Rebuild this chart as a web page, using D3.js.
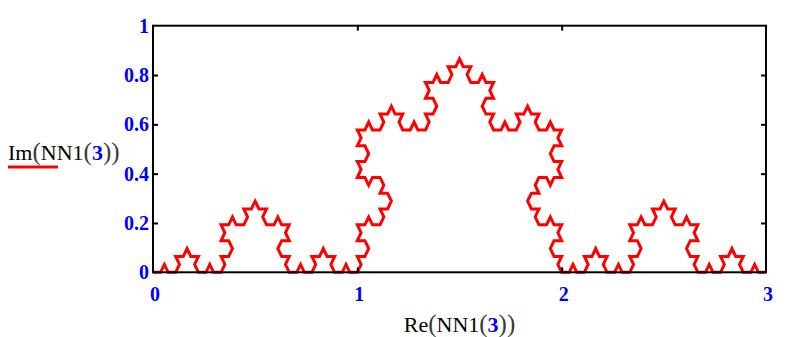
<!DOCTYPE html>
<html>
<head>
<meta charset="utf-8">
<script src="https://cdn.jsdelivr.net/npm/d3@7"></script>
<style>
  html, body { margin: 0; padding: 0; background: #fff; }
  svg { display: block; }
  .tick-label { font-family: "Liberation Serif", "Times New Roman", serif; font-weight: bold; font-size: 20px; fill: #0000ff; }
  .title { font-family: "Liberation Serif", "Times New Roman", serif; font-size: 22px; fill: #000; }
  .paren { font-size: 25px; fill: #3a3a3a; }
</style>
</head>
<body>
<svg id="chart" width="788" height="337"></svg>
<script>
// Koch curve NN1(3), traced as a chain code: each entry is the heading of one
// segment (length 1/27) in steps of 60 degrees.
const stepLength = 1 / 27;
const segmentDirs = [
  0, 1, -1, 0, 1, 2, 0, 1, -1, 0, -2, -1, 0, 1, -1, 0,
  1, 2, 0, 1, 2, 3, 1, 2, 0, 1, -1, 0, 1, 2, 0, 1,
  -1, 0, -2, -1, 0, 1, -1, 0, -2, -1, -3, -2, -1, 0, -2, -1,
  0, 1, -1, 0, 1, 2, 0, 1, -1, 0, -2, -1, 0, 1, -1, 0,
  1, 2, 0, 1, 2, 3, 1, 2, 0, 1, -1, 0, 1, 2, 0, 1,
  2, 3, 1, 2, 3, 4, 2, 3, 1, 2, 0, 1, 2, 3, 1, 2,
  0, 1, -1, 0, 1, 2, 0, 1, -1, 0, -2, -1, 0, 1, -1, 0,
  1, 2, 0, 1, 2, 3, 1, 2, 0, 1, -1, 0, 1, 2, 0, 1,
  -1, 0, -2, -1, 0, 1, -1, 0, -2, -1, -3, -2, -1, 0, -2, -1,
  0, 1, -1, 0, 1, 2, 0, 1, -1, 0, -2, -1, 0, 1, -1, 0,
  -2, -1, -3, -2, -1, 0, -2, -1, -3, -2, -4, -3, -2, -1, -3, -2,
  -1, 0, -2, -1, 0, 1, -1, 0, -2, -1, -3, -2, -1, 0, -2, -1,
  0, 1, -1, 0, 1, 2, 0, 1, -1, 0, -2, -1, 0, 1, -1, 0,
  1, 2, 0, 1, 2, 3, 1, 2, 0, 1, -1, 0, 1, 2, 0, 1,
  -1, 0, -2, -1, 0, 1, -1, 0, -2, -1, -3, -2, -1, 0, -2, -1,
  0, 1, -1, 0, 1, 2, 0, 1, -1, 0, -2, -1, 0, 1, -1, 0
];

const xTicks = [0, 1, 2, 3];
const yTicks = [0, 0.2, 0.4, 0.6, 0.8, 1];
const xTickLabels = ['0', '1', '2', '3'];
const yTickLabels = ['0', '0.2', '0.4', '0.6', '0.8', '1'];

// walk the chain code into vertices
const points = [{ re: 0, im: 0 }];
segmentDirs.forEach(d => {
  const last = points[points.length - 1];
  const a = d * Math.PI / 3;
  points.push({ re: last.re + stepLength * Math.cos(a), im: last.im + stepLength * Math.sin(a) });
});

const svg = d3.select('#chart');
const plotLeft = 153, plotRight = 766, plotTop = 25.7, plotBottom = 272.3;

const x = d3.scaleLinear().domain([0, 3]).range([plotLeft, plotRight]);
const y = d3.scaleLinear().domain([0, 1]).range([plotBottom, plotTop]);

// curve first, frame on top
svg.append('path')
  .datum(points)
  .attr('fill', 'none')
  .attr('stroke', '#ff0000')
  .attr('stroke-width', 3)
  .attr('stroke-linejoin', 'miter')
  .attr('d', d3.line().x(d => x(d.re)).y(d => y(d.im)));

svg.append('rect')
  .attr('x', plotLeft).attr('y', plotTop)
  .attr('width', plotRight - plotLeft).attr('height', plotBottom - plotTop)
  .attr('fill', 'none').attr('stroke', '#000').attr('stroke-width', 2);

// inward ticks on all four sides
const tickLen = 5;
const innerY = yTicks.filter(v => v > 0 && v < 1);
const innerX = xTicks.filter(v => v > 0 && v < 3);

svg.append('g')
  .attr('transform', `translate(${plotLeft},0)`)
  .call(d3.axisLeft(y).tickValues(innerY).tickSizeInner(-tickLen).tickSizeOuter(0).tickFormat(''))
  .call(g => g.select('.domain').remove());
svg.append('g')
  .attr('transform', `translate(${plotRight},0)`)
  .call(d3.axisRight(y).tickValues(innerY).tickSizeInner(-tickLen).tickSizeOuter(0).tickFormat(''))
  .call(g => g.select('.domain').remove());
svg.append('g')
  .attr('transform', `translate(0,${plotBottom})`)
  .call(d3.axisBottom(x).tickValues(innerX).tickSizeInner(-tickLen).tickSizeOuter(0).tickFormat(''))
  .call(g => g.select('.domain').remove());
svg.append('g')
  .attr('transform', `translate(0,${plotTop})`)
  .call(d3.axisTop(x).tickValues(innerX).tickSizeInner(-tickLen).tickSizeOuter(0).tickFormat(''))
  .call(g => g.select('.domain').remove());
svg.selectAll('.tick line').attr('stroke', '#000').attr('stroke-width', 2);

// tick labels
svg.append('g').selectAll('text')
  .data(yTicks)
  .enter()
  .append('text')
  .attr('class', 'tick-label')
  .attr('x', plotLeft - 4)
  .attr('y', d => y(d) + 7)
  .attr('text-anchor', 'end')
  .text((d, i) => yTickLabels[i]);

svg.append('g').selectAll('text')
  .data(xTicks)
  .enter()
  .append('text')
  .attr('class', 'tick-label')
  .attr('x', d => x(d) + 2)
  .attr('y', plotBottom + 29)
  .attr('text-anchor', 'middle')
  .text((d, i) => xTickLabels[i]);

// axis titles, Mathcad style: Re(NN1(3)) with the argument in blue
function title(g, fn) {
  const t = g.append('text').attr('class', 'title');
  t.append('tspan').text(fn);
  t.append('tspan').attr('class', 'paren').text('(');
  t.append('tspan').text('NN1');
  t.append('tspan').attr('class', 'paren').text('(');
  t.append('tspan').attr('fill', '#0000ff').attr('font-weight', 'bold').text('3');
  t.append('tspan').attr('class', 'paren').text('))');
  return t;
}

title(svg, 'Re').attr('x', x(1.5)).attr('y', 332).attr('text-anchor', 'middle');
title(svg, 'Im').attr('x', 8).attr('y', 160);

svg.append('line')
  .attr('x1', 8).attr('x2', 58)
  .attr('y1', 167).attr('y2', 167)
  .attr('stroke', '#ff0000').attr('stroke-width', 3);
</script>
</body>
</html>
